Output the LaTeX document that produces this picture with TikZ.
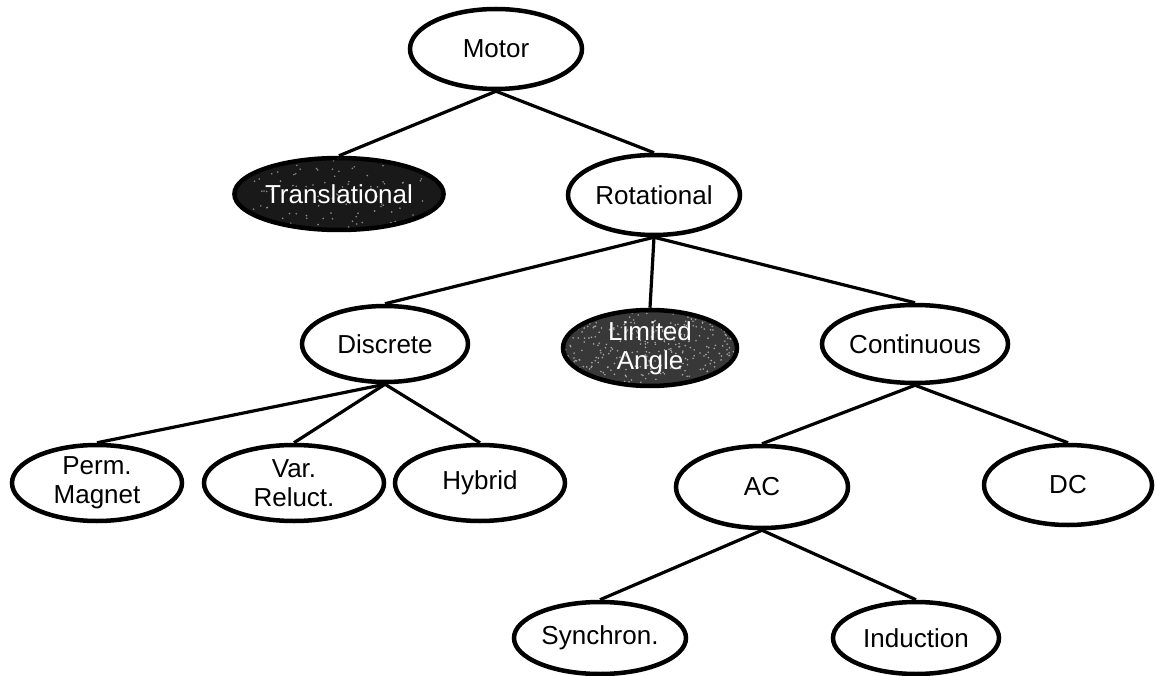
\documentclass[tikz,border=0pt]{standalone}
\usepackage{fontspec}
\setmainfont{Liberation Sans}
\usetikzlibrary{shapes.geometric}
\begin{document}
\pgfmathsetseed{7}
\begin{tikzpicture}[x=1pt,y=-1pt,
  oval/.style={ellipse, draw, line width=4.5pt, inner sep=0pt, fill=white,
    font=\fontsize{26}{29}\selectfont, align=center},
  sz/.style 2 args={minimum width=#1, minimum height=#2},
  grain/.style 2 args={path picture={
    \foreach \k in {1,...,#1}
      \fill[#2] ([shift={(rand*90pt,rand*42pt)}]path picture bounding box.center) circle (0.9pt);}},
  dark/.style={oval, fill=black!90, text=white},
  mid/.style={oval, fill=black!78, text=white},
  link/.style={line width=3.2pt}]
\useasboundingbox (0,0) rectangle (1156,676);

% tree of motor types
\node[oval, sz={172}{80}] (motor) at (496,49) {Motor};
\node[dark, sz={170}{72}, grain={120}{black!45}] (trans) at (339,194) {Translational};
\node[oval, sz={172}{80}] (rot) at (654,195) {Rotational};
\node[oval, sz={166}{76}] (disc) at (385,344) {Discrete};
\node[mid, sz={174}{76}, grain={380}{black!35}] (lim) at (650,348) {Limited\\Angle};
\node[oval, sz={172}{78}] (cont) at (915,344) {Continuous};
\node[oval, sz={170}{76}] (perm) at (97,483) {Perm.\\Magnet};
\node[oval, sz={180}{76}] (var) at (294,483) {Var.\\Reluct.};
\node[oval, sz={170}{76}] (hyb) at (480,483) {Hybrid};
\node[oval, sz={172}{82}] (ac) at (762,487) {AC};
\node[oval, sz={168}{80}] (dc) at (1068,485) {DC};
\node[oval, sz={172}{72}] (syn) at (600,638) {Synchron.};
\node[oval, sz={166}{72}] (ind) at (916,638) {Induction};

% connectors from each parent's lowest point to its children's tops
\draw[link] (motor.south) -- (trans.north);
\draw[link] (motor.south) -- (rot.north);
\draw[link] (rot.south) -- (disc.north);
\draw[link] (rot.south) -- (lim.north);
\draw[link] (rot.south) -- (cont.north);
\draw[link] (disc.south) -- (perm.north);
\draw[link] (disc.south) -- (var.north);
\draw[link] (disc.south) -- (hyb.north);
\draw[link] (cont.south) -- (ac.north);
\draw[link] (cont.south) -- (dc.north);
\draw[link] (ac.south) -- (syn.north);
\draw[link] (ac.south) -- (ind.north);
\end{tikzpicture}
\end{document}
